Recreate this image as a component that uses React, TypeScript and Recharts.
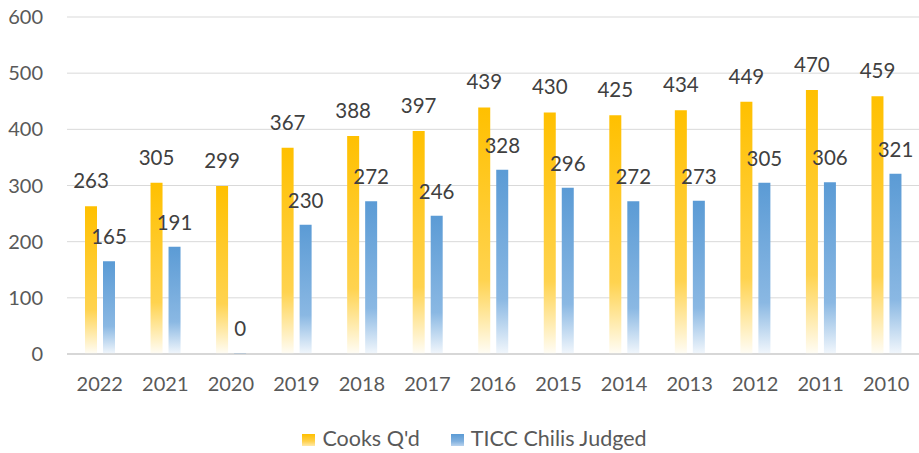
import React from 'react';
import { BarChart, Bar, XAxis, YAxis, CartesianGrid, Legend, LabelList } from 'recharts';

const years = ['2022', '2021', '2020', '2019', '2018', '2017', '2016', '2015', '2014', '2013', '2012', '2011', '2010'];
const cooksQd = [263, 305, 299, 367, 388, 397, 439, 430, 425, 434, 449, 470, 459];
const chilisJudged = [165, 191, 0, 230, 272, 246, 328, 296, 272, 273, 305, 306, 321];
const yTicks = [0, 100, 200, 300, 400, 500, 600];

const data = years.map((y, i) => ({ year: y, cooks: cooksQd[i], judged: chilisJudged[i] }));

const FONT = 'Lato, "Open Sans", sans-serif';

const legendItems = [
  { label: "Cooks Q'd", bg: 'linear-gradient(to bottom, #FFC000 0%, #FFD04A 60%, #FFE9A8 100%)' },
  { label: 'TICC Chilis Judged', bg: 'linear-gradient(to bottom, #5B9BD5 0%, #80B0DE 60%, #B9D3EE 100%)' },
];

const renderLegend = () => (
  <div style={{ display: 'flex', justifyContent: 'center', alignItems: 'center', paddingLeft: 30, fontFamily: FONT, fontSize: 21.5, color: '#595959' }}>
    {legendItems.map((it, i) => (
      <div key={it.label} style={{ display: 'flex', alignItems: 'center', marginLeft: i === 0 ? 0 : 31 }}>
        <span style={{ display: 'inline-block', width: 13, height: 12, background: it.bg, marginRight: 7, marginTop: 4 }} />
        <span>{it.label}</span>
      </div>
    ))}
  </div>
);

export default function App() {
  return (
    <div style={{ position: 'absolute', left: 0, top: 0, width: 919, height: 453, background: '#fff' }}>
      <BarChart
        width={919}
        height={453}
        data={data}
        margin={{ top: 17, right: 0, bottom: 69, left: 0 }}
        barSize={12}
        barGap={6}
      >
        <defs>
          <linearGradient id="gradYellow" x1="0" y1="0" x2="0" y2="1">
            <stop offset="0%" stopColor="#FFC000" />
            <stop offset="70%" stopColor="#FFD34F" />
            <stop offset="100%" stopColor="#FFFDF6" />
          </linearGradient>
          <linearGradient id="gradBlue" x1="0" y1="0" x2="0" y2="1">
            <stop offset="0%" stopColor="#5B9BD5" />
            <stop offset="70%" stopColor="#8AB8E3" />
            <stop offset="100%" stopColor="#F2F7FC" />
          </linearGradient>
        </defs>
        <CartesianGrid vertical={false} stroke="#D9D9D9" strokeWidth={1} />
        <XAxis
          dataKey="year"
          height={30}
          tickLine={false}
          tickSize={0}
          tickMargin={23}
          axisLine={{ stroke: '#D0D0D0', strokeWidth: 1.5 }}
          tick={{ fill: '#595959', fontSize: 20, fontFamily: FONT }}
          interval={0}
        />
        <YAxis
          width={67}
          domain={[0, 600]}
          ticks={yTicks}
          axisLine={false}
          tickLine={false}
          tickSize={0}
          tickMargin={24}
          tick={{ fill: '#595959', fontSize: 20, fontFamily: FONT }}
        />
        <Legend verticalAlign="middle" align="center" layout="horizontal" content={renderLegend} wrapperStyle={{ top: 425, left: 0, width: 919 }} />
        <Bar dataKey="cooks" name="Cooks Q'd" fill="url(#gradYellow)" isAnimationActive={false}>
          <LabelList dataKey="cooks" position="top" offset={18} fill="#404040" fontSize={20.5} fontFamily={FONT} />
        </Bar>
        <Bar dataKey="judged" name="TICC Chilis Judged" fill="url(#gradBlue)" minPointSize={1} isAnimationActive={false}>
          <LabelList dataKey="judged" position="top" offset={17} fill="#404040" fontSize={20.5} fontFamily={FONT} />
        </Bar>
      </BarChart>
    </div>
  );
}
